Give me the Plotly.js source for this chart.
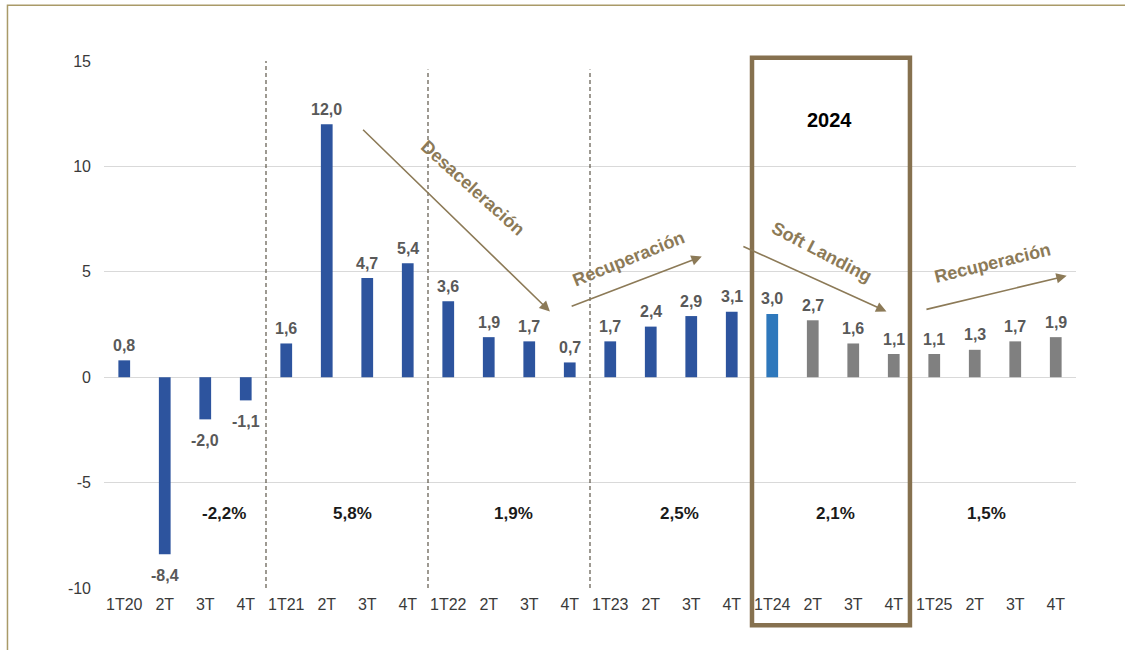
<!DOCTYPE html>
<html>
<head>
<meta charset="utf-8">
<script src="https://cdn.plot.ly/plotly-3.0.1.min.js"></script>
<style>
  html, body { margin: 0; padding: 0; background: #ffffff; }
  #chart { width: 1125px; height: 650px; }
</style>
</head>
<body>
<div id="chart"></div>
<script>
// ---------- DATA ----------
const quarters = ['1T20','2T','3T','4T','1T21','2T','3T','4T','1T22','2T','3T','4T',
                  '1T23','2T','3T','4T','1T24','2T','3T','4T','1T25','2T','3T','4T'];
const growth = [0.8, -8.4, -2.0, -1.1, 1.6, 12.0, 4.7, 5.4, 3.6, 1.9, 1.7, 0.7,
                1.7, 2.4, 2.9, 3.1, 3.0, 2.7, 1.6, 1.1, 1.1, 1.3, 1.7, 1.9];
const status = ['obs','obs','obs','obs','obs','obs','obs','obs','obs','obs','obs','obs',
                'obs','obs','obs','obs','adv','proj','proj','proj','proj','proj','proj','proj'];
const annualGrowth = [-2.2, 5.8, 1.9, 2.5, 2.1, 1.5];
const phaseLabels = ['Desaceleración', 'Recuperación', 'Soft Landing', 'Recuperación'];
const highlightYear = '2024';

// ---------- STYLE / LAYOUT ----------
const statusColor = { obs: '#2D549E', adv: '#2E78BC', proj: '#808080' };
const fmt = v => v.toFixed(1).replace('.', ',');
const FONT = 'Liberation Sans, Arial, sans-serif';
const brown = '#8C7A57';
const idx = quarters.map((_, i) => i);

const trace = {
  type: 'bar',
  x: idx,
  y: growth,
  width: 0.29,
  marker: { color: status.map(s => statusColor[s]) },
  hoverinfo: 'skip'
};

const annotations = [];
// value labels
growth.forEach((v, i) => {
  annotations.push({
    x: i, y: v, xref: 'x', yref: 'y', text: fmt(v), showarrow: false,
    xanchor: 'center', yanchor: 'middle', yshift: v >= 0 ? 15 : -21,
    font: { family: FONT, size: 16, color: '#595959', weight: 'bold' }
  });
});
// annual averages (placement per year block)
const annualX = [2.46, 5.64, 9.6, 13.72, 17.57, 21.3];
annualGrowth.forEach((v, k) => {
  annotations.push({
    x: annualX[k], y: -6.48, xref: 'x', yref: 'y', text: fmt(v) + '%', showarrow: false,
    font: { family: FONT, size: 17, color: '#1a1a1a', weight: 'bold' }
  });
});
// highlight year title
annotations.push({
  x: 17.41, y: 12.2, xref: 'x', yref: 'y', text: highlightYear, showarrow: false,
  font: { family: FONT, size: 20, color: '#000000', weight: 'bold' }
});
// phase arrows
const arrows = [
  { tail: [5.86, 11.81], head: [10.51, 3.12] },
  { tail: [11.01, 3.34], head: [14.26, 5.72] },
  { tail: [15.25, 6.23], head: [18.82, 3.12] },
  { tail: [19.77, 3.20], head: [23.27, 4.81] }
];
arrows.forEach(a => {
  annotations.push({
    x: a.head[0], y: a.head[1], ax: a.tail[0], ay: a.tail[1],
    xref: 'x', yref: 'y', axref: 'x', ayref: 'y',
    text: '', showarrow: true, arrowhead: 2, arrowsize: 1.3, arrowwidth: 1.6,
    arrowcolor: brown, standoff: 0, startstandoff: 0
  });
});
const phaseText = [
  { x: 8.61, y: 8.99, angle: 42 },
  { x: 12.44, y: 5.62, angle: -22 },
  { x: 17.22, y: 5.96, angle: 27.6 },
  { x: 21.45, y: 5.42, angle: -13.7 }
];
phaseText.forEach((p, k) => {
  annotations.push({
    x: p.x, y: p.y, xref: 'x', yref: 'y', text: phaseLabels[k], showarrow: false,
    textangle: p.angle, xanchor: 'center', yanchor: 'middle',
    font: { family: FONT, size: 18, color: brown, weight: 'bold' }
  });
});

const N = quarters.length;
const sepLine = { color: '#4F4739', width: 1.1, dash: '4px,3px' };
const shapes = [
  // outer frame
  { type: 'rect', xref: 'paper', yref: 'paper', x0: -0.0993, x1: 1.3, y0: -0.4, y1: 1.106,
    line: { color: '#A99A68', width: 1.5 }, layer: 'below' },
  // year separators
  { type: 'line', xref: 'x', yref: 'y', x0: 3.5, x1: 3.5, y0: -10, y1: 15, line: sepLine },
  { type: 'line', xref: 'x', yref: 'y', x0: 7.5, x1: 7.5, y0: -10, y1: 14.6, line: sepLine },
  { type: 'line', xref: 'x', yref: 'y', x0: 11.5, x1: 11.5, y0: -10, y1: 14.6, line: sepLine },
  // 2024 highlight box
  { type: 'rect', xref: 'paper', yref: 'paper', x0: 16 / N, x1: 19.9 / N, y0: -0.0706, y1: 1.0063,
    line: { color: '#86714F', width: 4.5 }, layer: 'above' }
];

const layout = {
  width: 1125, height: 650,
  margin: { l: 104, r: 49, t: 61, b: 62 },
  paper_bgcolor: '#ffffff', plot_bgcolor: '#ffffff',
  showlegend: false,
  font: { family: FONT, color: '#404040' },
  xaxis: {
    range: [-0.5, N - 0.5], tickvals: idx, ticktext: quarters,
    showgrid: false, zeroline: false, showline: false, ticks: '',
    tickfont: { family: FONT, size: 16, color: '#3A3A3A' },
    ticklabelstandoff: 5, fixedrange: true
  },
  yaxis: {
    range: [-10, 15], tickvals: [-10, -5, 0, 5, 10, 15],
    ticktext: ['-10', '-5', '0', '5', '10', '15'],
    gridcolor: '#D9D9D9', gridwidth: 1, zeroline: false, showline: false, ticks: '',
    tickfont: { family: FONT, size: 16, color: '#3A3A3A' },
    ticklabelstandoff: 12, fixedrange: true
  },
  annotations: annotations,
  shapes: shapes
};

Plotly.newPlot('chart', [trace], layout, { displayModeBar: false, staticPlot: true });
</script>
</body>
</html>
